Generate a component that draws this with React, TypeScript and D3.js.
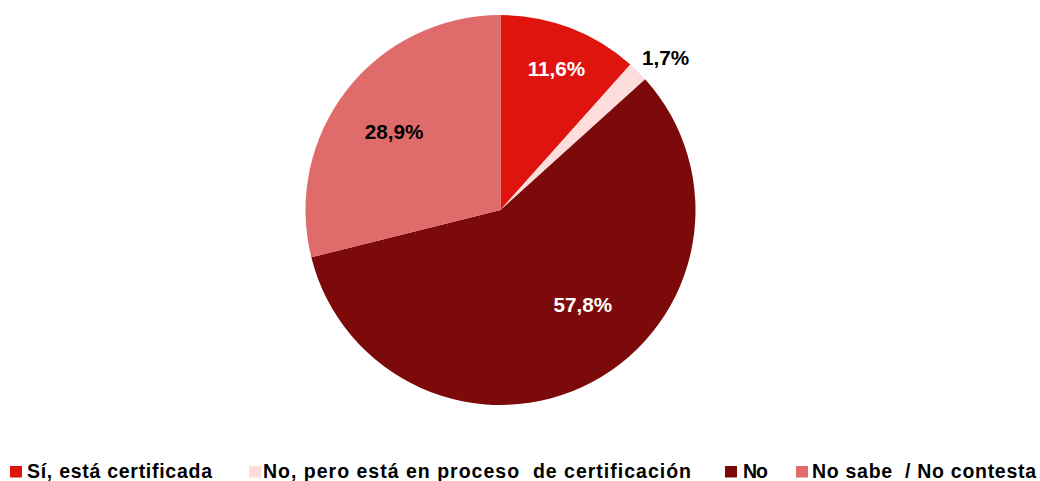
import React from "react";
import * as d3 from "d3";

const categories = [
  "Sí, está certificada",
  "No, pero está en proceso  de certificación",
  "No",
  "No sabe  / No contesta",
];
const values = [11.6, 1.7, 57.8, 28.9];
const labels = ["11,6%", "1,7%", "57,8%", "28,9%"];
const colors = ["#E0140F", "#FDDCDC", "#7D0A0A", "#E06B6B"];
const labelColors = ["#ffffff", "#000000", "#ffffff", "#000000"];

// layout: label radius factor and angular shift (deg)
const labelRadius = [0.78, 1.152, 0.643, 0.678];
const labelShift = [0.7, 2.5, -13, -1.6];
// legend layout: square x, text x, text width
const legendSquareX = [10, 249, 725, 796];
const legendTextX = [27, 263, 743, 812];
const legendTextW = [185, 428, 25, 224];

const W = 1040;
const H = 481;
const cx = 500.5;
const cy = 210;
const R = 195;

export default function App() {
  const pie = d3
    .pie<number>()
    .sort(null)
    .value((d) => d)
    .startAngle(0)
    .endAngle(2 * Math.PI);
  const arcs = pie(values);
  const arc = d3.arc<d3.PieArcDatum<number>>().innerRadius(0).outerRadius(R);

  return (
    <svg
      width={W}
      height={H}
      style={{ position: "absolute", left: 0, top: 0, display: "block" }}
      fontFamily="'Liberation Sans', Arial, sans-serif"
    >
      <rect width={W} height={H} fill="#fff" />
      <g transform={`translate(${cx},${cy})`}>
        {arcs.map((a, i) => (
          <path key={i} d={arc(a) || ""} fill={colors[i]} />
        ))}
        {arcs.map((a, i) => {
          const mid = (a.startAngle + a.endAngle) / 2 + (labelShift[i] * Math.PI) / 180;
          const r = R * labelRadius[i];
          const x = Math.sin(mid) * r;
          const y = -Math.cos(mid) * r;
          return (
            <text
              key={i}
              x={x}
              y={y}
              textAnchor="middle"
              dominantBaseline="central"
              fontWeight="bold"
              fontSize={20.7}
              fill={labelColors[i]}
            >
              {labels[i]}
            </text>
          );
        })}
      </g>
      {categories.map((c, i) => (
        <g key={i}>
          <rect x={legendSquareX[i]} y={466} width={12} height={11.5} fill={colors[i]} />
          <text
            x={legendTextX[i]}
            y={477.5}
            fontWeight="bold"
            fontSize={19.5}
            fill="#000"
            textLength={legendTextW[i]}
            lengthAdjust="spacing"
            style={{ whiteSpace: "pre" }}
          >
            {c}
          </text>
        </g>
      ))}
    </svg>
  );
}
